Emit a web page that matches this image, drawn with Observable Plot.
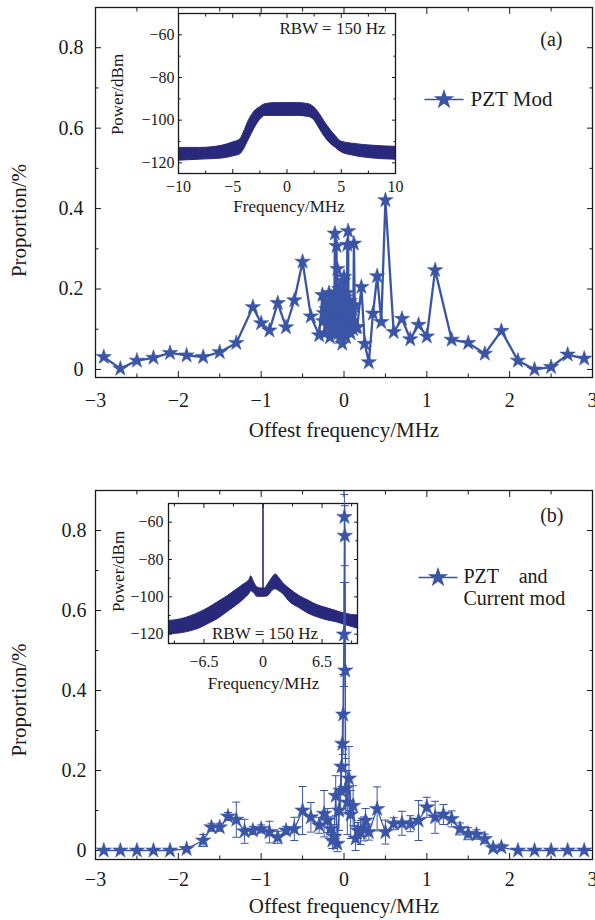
<!DOCTYPE html>
<html><head><meta charset="utf-8">
<script src="https://cdn.jsdelivr.net/npm/d3@7"></script>
<script src="https://cdn.jsdelivr.net/npm/@observablehq/plot@0.6"></script>
<style>
body{margin:0;background:#fff;}
#wrap{position:relative;width:595px;height:920px;font-family:"Liberation Serif",serif;color:#1a1a1a;overflow:hidden;}
#wrap > svg{position:absolute;}
</style></head><body><div id="wrap"></div>
<script>
// ---------- Panel (a): PZT Mod ----------
const freqA = [-2.9,-2.7,-2.5,-2.3,-2.1,-1.9,-1.7,-1.5,-1.3,-1.1,-1.0,-0.9,-0.8,-0.7,-0.6,-0.5,-0.4,-0.3,
  -0.26,-0.25,-0.24,-0.23,-0.22,-0.21,-0.20,-0.19,-0.18,-0.17,-0.16,-0.15,-0.14,-0.13,-0.12,-0.115,-0.11,-0.105,-0.10,-0.095,-0.09,-0.085,
  -0.08,-0.075,-0.07,-0.065,-0.06,-0.055,-0.05,-0.045,-0.04,-0.035,-0.03,-0.025,-0.02,-0.015,-0.01,-0.005,
  0.00,0.005,0.01,0.015,0.02,0.025,0.03,0.035,0.04,0.045,0.05,0.055,0.06,0.065,0.07,0.075,0.08,0.09,0.10,0.11,0.12,0.13,0.14,
  0.16,0.21,0.25,0.30,0.35,0.40,0.45,0.50,0.60,0.70,0.80,0.90,1.0,1.1,1.3,1.5,1.7,1.9,2.1,2.3,2.5,2.7,2.9];
const propA = [0.031,0.002,0.022,0.029,0.041,0.035,0.031,0.043,0.066,0.155,0.115,0.097,0.165,0.105,0.172,0.268,0.132,0.085,
  0.185,0.12,0.14,0.09,0.17,0.15,0.11,0.13,0.19,0.08,0.10,0.18,0.16,0.09,0.12,0.19,0.338,0.14,0.09,0.18,0.307,0.11,
  0.25,0.16,0.13,0.09,0.20,0.14,0.10,0.08,0.17,0.19,0.12,0.14,0.064,0.10,0.22,0.16,
  0.23,0.12,0.15,0.18,0.10,0.08,0.19,0.13,0.31,0.17,0.344,0.11,0.12,0.15,0.17,0.12,0.09,0.14,0.15,0.10,0.313,0.16,0.105,
  0.105,0.205,0.064,0.018,0.139,0.232,0.118,0.421,0.093,0.126,0.075,0.111,0.082,0.247,0.074,0.066,0.039,0.096,0.022,0.000,0.006,0.037,0.027];

// ---------- Panel (b): PZT and Current mod ----------
const freqB = [-2.9,-2.7,-2.5,-2.3,-2.1,-1.9,-1.7,-1.6,-1.5,-1.4,-1.3,-1.2,-1.1,-1.0,-0.9,-0.8,-0.7,-0.6,-0.5,-0.4,-0.3,
  -0.24,-0.2,-0.16,-0.14,-0.12,-0.1,-0.08,-0.06,-0.04,-0.03,-0.02,-0.01,0.0,0.005,0.01,0.015,0.02,0.04,0.06,0.08,0.11,0.14,
  0.17,0.2,0.24,0.26,0.3,0.4,0.5,0.6,0.7,0.8,0.9,1.0,1.1,1.2,1.3,1.4,1.5,1.6,1.7,1.8,1.9,2.1,2.3,2.5,2.7,2.9];
const propB = [0,0,0,0,0,0.004,0.025,0.058,0.058,0.085,0.077,0.048,0.05,0.054,0.046,0.033,0.05,0.054,0.10,0.083,0.063,
  0.092,0.075,0.054,0.025,0.035,0.137,0.017,0.10,0.15,0.21,0.267,0.34,0.54,0.834,0.787,0.45,0.154,0.12,0.18,0.09,0.112,0.03,
  0.05,0.045,0.054,0.075,0.046,0.104,0.046,0.067,0.068,0.067,0.075,0.108,0.083,0.09,0.079,0.054,0.042,0.04,0.029,0.006,0.008,0,0,0,0,0];
const errB = [0,0,0,0,0,0.006,0.015,0.01,0.01,0.01,0.044,0.03,0.01,0.01,0.027,0.015,0.01,0.029,0.06,0.037,0.02,
  0.058,0.03,0.03,0.02,0.03,0.05,0.02,0.05,0.06,0.05,0.07,0.1,0.13,0.056,0.075,0.22,0.06,0.08,0.08,0.06,0.05,0.03,
  0.02,0.03,0.03,0.03,0.02,0.055,0.03,0.015,0.03,0.02,0.05,0.025,0.04,0.025,0.02,0.015,0.015,0.012,0.012,0.006,0.008,0,0,0,0,0];

// ---------- Inset spectra (band envelopes) ----------
const specAFreq = [-10,-8,-6,-5,-4.3,-4,-3.5,-3,-2.5,-2,-1,0,1,2,2.5,3,3.5,4,4.5,5,6,8,10];
const specALo   = [-119,-118.5,-118,-117,-116,-114,-109,-104,-100,-98,-98,-98,-98,-98.5,-100,-104,-108,-111,-113,-115,-116.5,-118,-118.5];
const specAHi   = [-113,-113,-112,-110.5,-109,-106,-100,-96,-94,-92.5,-92,-92,-92,-92.5,-94,-97,-101,-104.5,-107.5,-110,-111,-112,-112.5];

const specBFreq = [-10.4,-9,-8,-7,-6,-5,-4,-3,-2,-1.5,-1.3,-1,-0.6,-0.2,0.2,0.6,1.0,1.4,1.8,2.2,3,4,5,6,7,8,9,10.4];
const specBLo   = [-120,-119.5,-118.5,-117,-114.5,-112,-108.5,-105,-101,-98.5,-97,-98,-100,-100,-100,-99.5,-97,-96,-97,-98.5,-103,-106,-109,-111,-112.5,-113.5,-115,-117];
const specBHi   = [-113,-112,-110.5,-108.5,-106,-103,-100,-96.5,-93,-91,-89,-92,-95,-95.5,-95.5,-93,-90,-88,-90,-92.5,-96,-99.5,-102,-104.5,-106,-107.5,-109,-110];
const spikeBFreq = [0], spikeBBase = [-99], spikeBTop = [-50];

// ---------- Ticks ----------
const mainXTicks = [-3,-2,-1,0,1,2,3];
const mainXMinor = [-2.5,-1.5,-0.5,0.5,1.5,2.5];
const mainYTicks = [0,0.2,0.4,0.6,0.8];
const mainYMinor = [0.1,0.3,0.5,0.7];
const insAXTicks = [-10,-5,0,5,10];
const insAXMinor = [-7.5,-2.5,2.5,7.5];
const insYTicks = [-60,-80,-100,-120];
const insYMinor = [-70,-90,-110];
const insBXTicks = [-6.5,0,6.5];
const insBXMinor = [-9.75,-3.25,3.25,9.75];

const STAR = "#3b55a6", NAVY = "#28297a", INK = "#1a1a1a";
const FONT = "Liberation Serif, serif";
const minusFmt = d => d < 0 ? "\u2212" + Math.abs(d) : String(d);
const propFmt = d => d === 0 ? "0" : d.toFixed(1);

const dataA = freqA.map((f,i) => ({f, p: propA[i]}));
const dataB = freqB.map((f,i) => ({f, p: propB[i], e: errB[i]}));
const errData = dataB.filter(d => d.e > 0);
const specA = specAFreq.map((f,i) => ({f, lo: specALo[i], hi: specAHi[i]}));
const specB = specBFreq.map((f,i) => ({f, lo: specBLo[i], hi: specBHi[i]}));
const spikeB = spikeBFreq.map((f,i) => ({f, base: spikeBBase[i], top: spikeBTop[i]}));

const hline = {draw(ctx, size){ const w = Math.sqrt(size/Math.PI); ctx.moveTo(-w,0); ctx.lineTo(w,0); }};

function frameAxes({xt, xm, yt, ym, fx, fy, fs, maj, mnr, xPad, yPad}) {
  const blank = () => "";
  return [
    Plot.axisX({ticks: xt, anchor: "bottom", tickSize: -maj, tickPadding: xPad + maj, tickFormat: fx, fontSize: fs, label: null}),
    Plot.axisX({ticks: xt, anchor: "top", tickSize: -maj, tickFormat: blank, label: null}),
    Plot.axisX({ticks: xm, anchor: "bottom", tickSize: -mnr, tickFormat: blank, label: null}),
    Plot.axisX({ticks: xm, anchor: "top", tickSize: -mnr, tickFormat: blank, label: null}),
    Plot.axisY({ticks: yt, anchor: "left", tickSize: -maj, tickPadding: yPad + maj, tickFormat: fy, fontSize: fs, label: null}),
    Plot.axisY({ticks: yt, anchor: "right", tickSize: -maj, tickFormat: blank, label: null}),
    Plot.axisY({ticks: ym, anchor: "left", tickSize: -mnr, tickFormat: blank, label: null}),
    Plot.axisY({ticks: ym, anchor: "right", tickSize: -mnr, tickFormat: blank, label: null}),
    Plot.frame({stroke: INK, strokeWidth: 1.3})
  ];
}
// text helper: anchored to the frame, vertically centred
const label = (s, o) => Plot.text([s], {text: d => d, lineAnchor: "middle", ...o});

function place(svg, left, top, z) {
  svg.style.left = left + "px"; svg.style.top = top + "px"; svg.style.zIndex = z;
  document.getElementById("wrap").appendChild(svg);
}

// ---------- Main (a) ----------
const mainA = Plot.plot({
  width: 595, height: 460, marginLeft: 95, marginRight: 3, marginTop: 7, marginBottom: 83,
  style: {fontFamily: FONT, color: INK, background: "transparent", overflow: "visible"},
  x: {domain: [-3, 3]}, y: {domain: [-0.02, 0.9]},
  marks: [
    ...frameAxes({xt: mainXTicks, xm: mainXMinor, yt: mainYTicks, ym: mainYMinor, fx: minusFmt, fy: propFmt, fs: 20, maj: 6, mnr: 3.5, xPad: 15, yPad: 12}),
    Plot.line(dataA, {x: "f", y: "p", stroke: STAR, strokeWidth: 2.3}),
    Plot.dot(dataA, {x: "f", y: "p", symbol: "star", r: 4.8, fill: STAR, stroke: STAR, strokeWidth: 0.6}),
    label("Offest frequency/MHz", {frameAnchor: "bottom", textAnchor: "middle", dy: 53, fontSize: 21}),
    label("Proportion/%", {frameAnchor: "left", textAnchor: "middle", rotate: -90, dx: -76, dy: 28, fontSize: 21}),
    label("(a)", {frameAnchor: "top-right", textAnchor: "end", dx: -30, dy: 32, fontSize: 20}),
    Plot.dot(["PZT Mod"], {frameAnchor: "top-left", dx: 348.5, dy: 92, symbol: hline, r: 19.5, fill: "none", stroke: STAR, strokeWidth: 1.6}),
    Plot.dot(["PZT Mod"], {frameAnchor: "top-left", dx: 348.5, dy: 92, symbol: "star", r: 5, fill: STAR, stroke: STAR}),
    label("PZT Mod", {frameAnchor: "top-left", textAnchor: "start", dx: 375, dy: 92, fontSize: 21})
  ]
});

// ---------- Inset (a) ----------
const insetA = Plot.plot({
  width: 300, height: 215, marginLeft: 78, marginRight: 5, marginTop: 13, marginBottom: 42,
  style: {fontFamily: FONT, color: INK, background: "white", overflow: "visible"},
  x: {domain: [-10, 10]}, y: {domain: [-125, -50]},
  marks: [
    Plot.areaY(specA, {x: "f", y1: "lo", y2: "hi", fill: NAVY, stroke: NAVY, strokeWidth: 1, curve: "monotone-x", clip: true}),
    ...frameAxes({xt: insAXTicks, xm: insAXMinor, yt: insYTicks, ym: insYMinor, fx: minusFmt, fy: minusFmt, fs: 16, maj: 4, mnr: 2.5, xPad: 7, yPad: 4}),
    label("Frequency/MHz", {frameAnchor: "bottom", textAnchor: "middle", dx: 2, dy: 33, fontSize: 17}),
    label("Power/dBm", {frameAnchor: "left", textAnchor: "middle", rotate: -90, dx: -61, dy: 1, fontSize: 17}),
    label("RBW = 150 Hz", {frameAnchor: "top-right", textAnchor: "end", dx: -10, dy: 15, fontSize: 17})
  ]
});

// ---------- Main (b) ----------
const mainB = Plot.plot({
  width: 595, height: 460, marginLeft: 95, marginRight: 3, marginTop: 30, marginBottom: 61,
  style: {fontFamily: FONT, color: INK, background: "transparent", overflow: "visible"},
  x: {domain: [-3, 3]}, y: {domain: [-0.0225, 0.9]},
  marks: [
    ...frameAxes({xt: mainXTicks, xm: mainXMinor, yt: mainYTicks, ym: mainYMinor, fx: minusFmt, fy: propFmt, fs: 20, maj: 6, mnr: 3.5, xPad: 12, yPad: 9}),
    Plot.ruleX(errData, {x: "f", y1: d => d.p - d.e, y2: d => d.p + d.e, stroke: STAR, strokeWidth: 1}),
    Plot.dot(errData, {x: "f", y: d => d.p + d.e, symbol: hline, r: 4, fill: "none", stroke: STAR, strokeWidth: 1}),
    Plot.dot(errData, {x: "f", y: d => d.p - d.e, symbol: hline, r: 4, fill: "none", stroke: STAR, strokeWidth: 1}),
    Plot.line(dataB, {x: "f", y: "p", stroke: STAR, strokeWidth: 1.3}),
    Plot.dot(dataB, {x: "f", y: "p", symbol: "star", r: 4.8, fill: STAR, stroke: STAR, strokeWidth: 0.6}),
    label("Offest frequency/MHz", {frameAnchor: "bottom", textAnchor: "middle", dy: 47, fontSize: 21}),
    label("Proportion/%", {frameAnchor: "left", textAnchor: "middle", rotate: -90, dx: -76, dy: 25, fontSize: 21}),
    label("(b)", {frameAnchor: "top-right", textAnchor: "end", dx: -29, dy: 25, fontSize: 20}),
    Plot.dot(["leg"], {frameAnchor: "top-left", dx: 342.5, dy: 87, symbol: hline, r: 19.5, fill: "none", stroke: STAR, strokeWidth: 1.6}),
    Plot.dot(["leg"], {frameAnchor: "top-left", dx: 342.5, dy: 87, symbol: "star", r: 5, fill: STAR, stroke: STAR}),
    label("PZT    and", {frameAnchor: "top-left", textAnchor: "start", dx: 368, dy: 86.5, fontSize: 20}),
    label("Current mod", {frameAnchor: "top-left", textAnchor: "start", dx: 368, dy: 108.5, fontSize: 20})
  ]
});

// ---------- Inset (b) ----------
const insetB = Plot.plot({
  width: 275, height: 190, marginLeft: 78, marginRight: 8, marginTop: 13, marginBottom: 37,
  style: {fontFamily: FONT, color: INK, background: "white", overflow: "visible"},
  x: {domain: [-10.4, 10.4]}, y: {domain: [-125, -50]},
  marks: [
    Plot.areaY(specB, {x: "f", y1: "lo", y2: "hi", fill: NAVY, stroke: NAVY, strokeWidth: 1, curve: "monotone-x", clip: true}),
    Plot.ruleX(spikeB, {x: "f", y1: "base", y2: "top", stroke: NAVY, strokeWidth: 1.6}),
    ...frameAxes({xt: insBXTicks, xm: insBXMinor, yt: insYTicks, ym: insYMinor, fx: minusFmt, fy: minusFmt, fs: 16, maj: 4, mnr: 2.5, xPad: 12, yPad: 5}),
    label("Frequency/MHz", {frameAnchor: "bottom", textAnchor: "middle", dx: 0.5, dy: 40, fontSize: 17}),
    label("Power/dBm", {frameAnchor: "left", textAnchor: "middle", rotate: -90, dx: -50, dy: -2, fontSize: 17}),
    label("RBW = 150 Hz", {frameAnchor: "bottom", textAnchor: "middle", dx: 2, dy: -10, fontSize: 17})
  ]
});

place(insetA, 100, 0, 1);
place(mainA, 0, 0, 2);
place(insetB, 90, 490, 1);
place(mainB, 0, 460, 2);
</script></body></html>
